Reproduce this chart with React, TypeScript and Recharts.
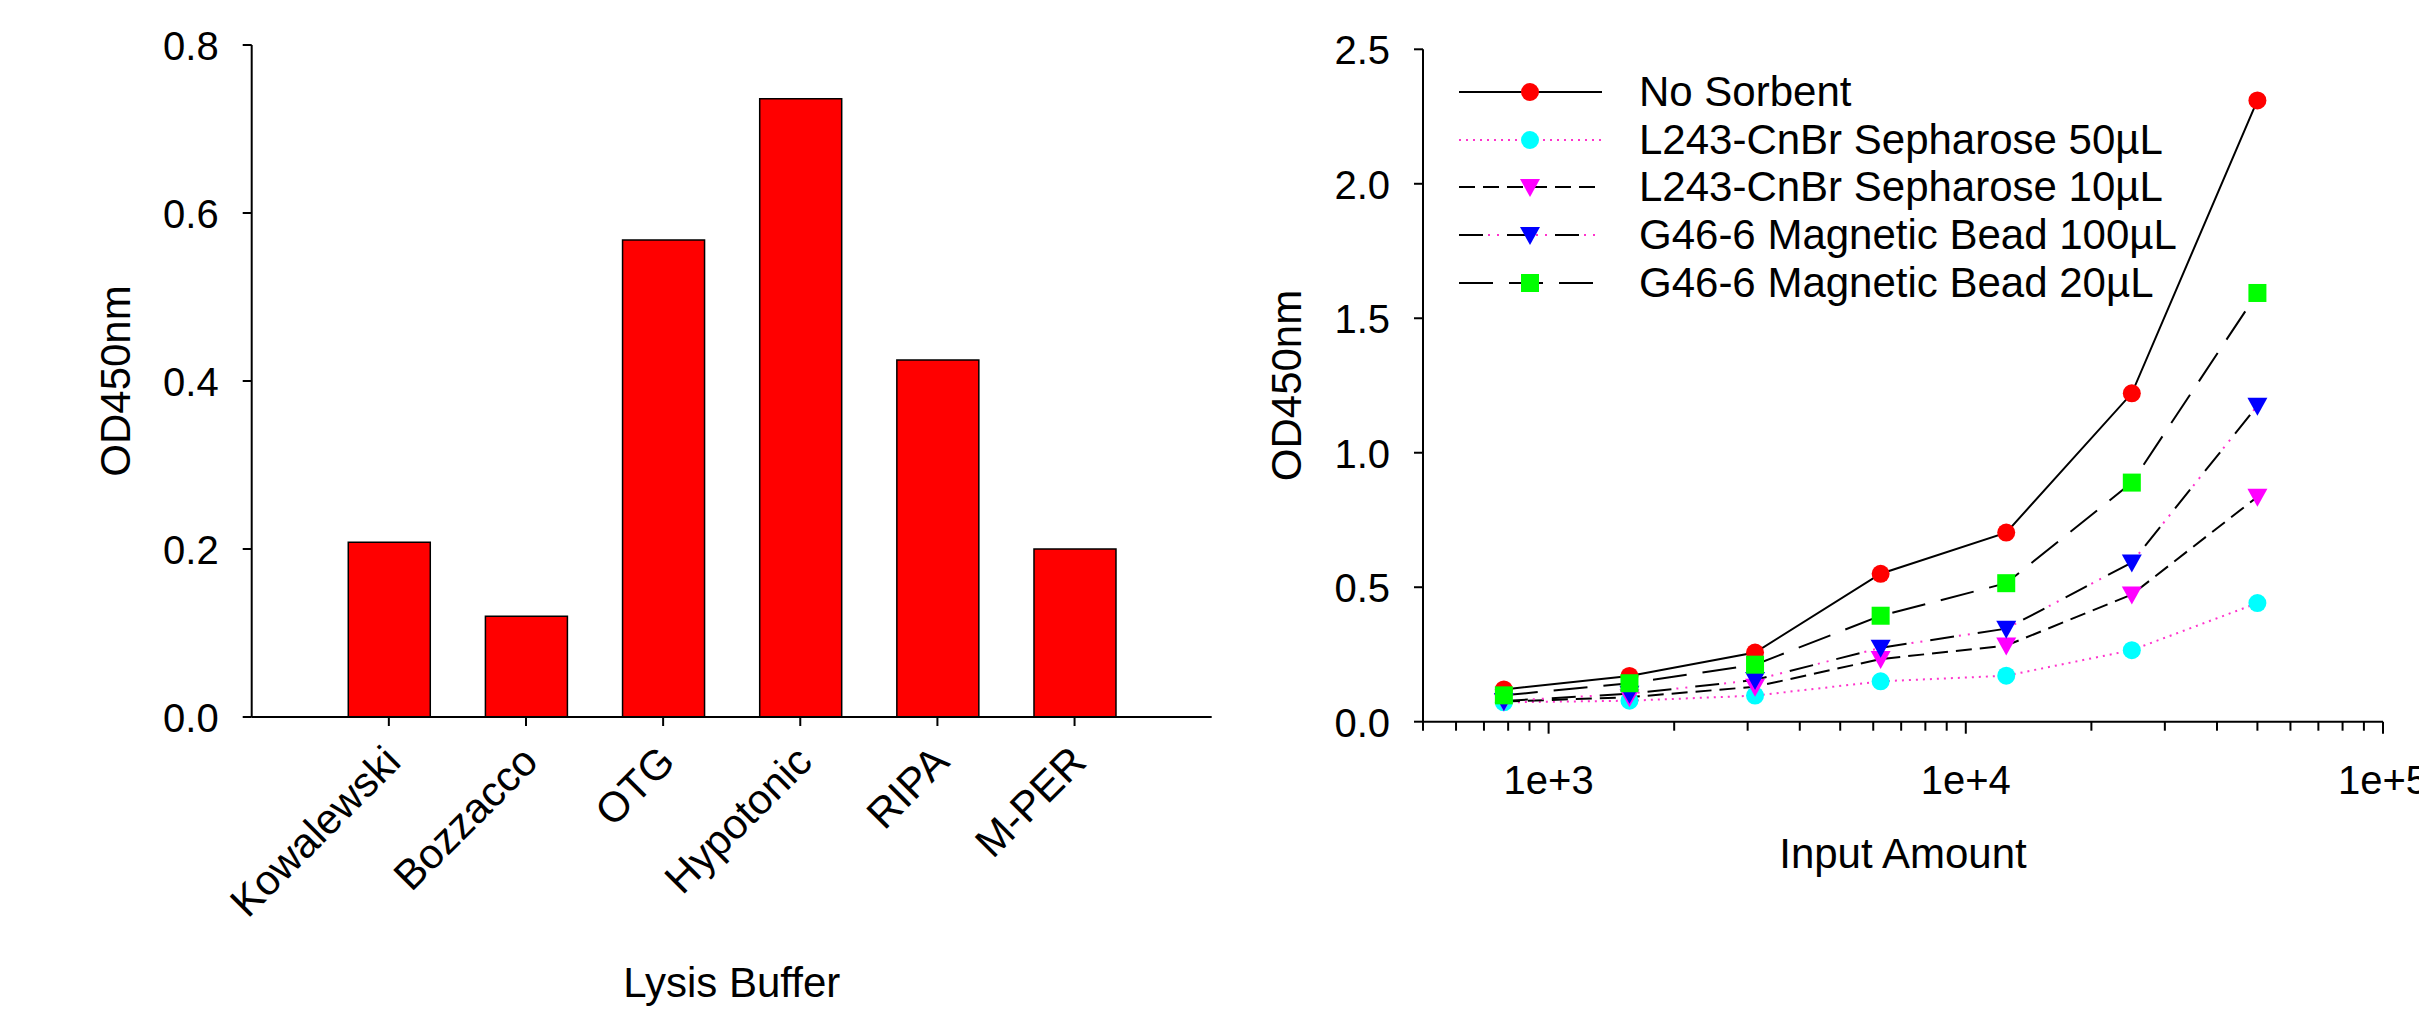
import { BarChart, Bar, LineChart, Line, XAxis, YAxis, Legend } from 'recharts';

const FONT = '"Liberation Sans", Arial, Helvetica, sans-serif';

// left panel: OD450 per lysis buffer
const lysisBuffers = ['Kowalewski', 'Bozzacco', 'OTG', 'Hypotonic', 'RIPA', 'M-PER'];
const lysisOD = [0.208, 0.12, 0.568, 0.736, 0.425, 0.2];
const lysisTicks = [0, 0.2, 0.4, 0.6, 0.8];

// right panel: OD450 vs input amount
const inputAmount = [781.25, 1562.5, 3125, 6250, 12500, 25000, 50000];
const noSorbent = [0.12, 0.17, 0.257, 0.55, 0.703, 1.221, 2.31];
const cnbr50 = [0.072, 0.078, 0.097, 0.15, 0.171, 0.266, 0.441];
const cnbr10 = [0.075, 0.091, 0.13, 0.233, 0.283, 0.473, 0.836];
const bead100 = [0.077, 0.104, 0.155, 0.275, 0.346, 0.592, 1.175];
const bead20 = [0.098, 0.143, 0.212, 0.394, 0.515, 0.889, 1.594];
const odTicks = [0, 0.5, 1, 1.5, 2, 2.5];
const logTicks = [
  500, 600, 700, 800, 900, 1000, 2000, 3000, 4000, 5000, 6000, 7000, 8000, 9000,
  10000, 20000, 30000, 40000, 50000, 60000, 70000, 80000, 90000, 100000,
];
const majorTicks = [1000, 10000, 100000];
const majorLabels = ['1e+3', '1e+4', '1e+5'];

const barData = lysisBuffers.map((name, i) => ({ name, od: lysisOD[i] }));
const lineData = inputAmount.map((x, i) => ({
  x,
  noSorbent: noSorbent[i],
  cnbr50: cnbr50[i],
  cnbr10: cnbr10[i],
  bead100: bead100[i],
  bead20: bead20[i],
}));

type Shape = 'circle' | 'triangle' | 'square';
type Series = { key: string; name: string; shape: Shape; fill: string; stroke: string; dash?: string; dots?: string };

const PINK = '#ff33cc';
const series: Series[] = [
  { key: 'noSorbent', name: 'No Sorbent', shape: 'circle', fill: '#ff0000', stroke: '#000' },
  { key: 'cnbr50', name: 'L243-CnBr Sepharose 50µL', shape: 'circle', fill: '#00ffff', stroke: PINK, dash: '2 5' },
  { key: 'cnbr10', name: 'L243-CnBr Sepharose 10µL', shape: 'triangle', fill: '#ff00ff', stroke: '#000', dash: '16 8' },
  { key: 'bead100', name: 'G46-6 Magnetic Bead 100µL', shape: 'triangle', fill: '#0000ff', stroke: '#000', dash: '24 24', dots: PINK },
  { key: 'bead20', name: 'G46-6 Magnetic Bead 20µL', shape: 'square', fill: '#00ff00', stroke: '#000', dash: '34 16' },
];
const DOT_DASH = '0 29 2 7 2 8';

function Marker({ cx, cy, shape, fill }: { cx?: number; cy?: number; shape: Shape; fill: string }) {
  if (cx == null || cy == null) return null;
  if (shape === 'circle') return <circle cx={cx} cy={cy} r={9} fill={fill} />;
  if (shape === 'square') return <rect x={cx - 9} y={cy - 9} width={18} height={18} fill={fill} />;
  return <polygon points={`${cx - 10},${cy - 8} ${cx + 10},${cy - 8} ${cx},${cy + 10}`} fill={fill} />;
}

function YTick(props: any) {
  const { x, y, payload } = props;
  return (
    <g>
      <line x1={x - 9} x2={x} y1={y} y2={y} stroke="#000" strokeWidth={2} />
      <text x={x - 33} y={y + 15} textAnchor="end" fontSize={40} fontFamily={FONT} fill="#000">
        {Number(payload.value).toFixed(1)}
      </text>
    </g>
  );
}

function CategoryTick(props: any) {
  const { x, y, payload } = props;
  const tx = x + 14;
  const ty = y + 47;
  return (
    <g>
      <line x1={x} x2={x} y1={y} y2={y + 9} stroke="#000" strokeWidth={2} />
      <text x={tx} y={ty} textAnchor="end" fontSize={42} fontFamily={FONT} fill="#000" transform={`rotate(-45, ${tx}, ${ty})`}>
        {payload.value}
      </text>
    </g>
  );
}

function LogTick(props: any) {
  const { x, y, payload } = props;
  const idx = majorTicks.indexOf(payload.value);
  const major = idx >= 0;
  return (
    <g>
      <line x1={x} x2={x} y1={y} y2={y + (major ? 12 : 9)} stroke="#000" strokeWidth={2} />
      {major && (
        <text x={x} y={y + 72} textAnchor="middle" fontSize={40} fontFamily={FONT} fill="#000">
          {majorLabels[idx]}
        </text>
      )}
    </g>
  );
}

const yTitle = (text: string) => (p: any) => {
  const vb = p.viewBox;
  const tx = vb.x + vb.width - 122;
  const ty = vb.y + vb.height / 2;
  return (
    <text x={tx} y={ty} textAnchor="middle" fontSize={42} fontFamily={FONT} fill="#000" transform={`rotate(-90, ${tx}, ${ty})`}>
      {text}
    </text>
  );
};

const xTitle = (text: string, dy: number) => (p: any) => {
  const vb = p.viewBox;
  return (
    <text x={vb.x + vb.width / 2} y={vb.y + dy} textAnchor="middle" fontSize={42} fontFamily={FONT} fill="#000">
      {text}
    </text>
  );
};

function LegendBox() {
  return (
    <div style={{ fontFamily: FONT, fontSize: 42, color: '#000' }}>
      {series.map((s) => (
        <div key={s.key} style={{ display: 'flex', alignItems: 'center', height: 47.8, whiteSpace: 'nowrap' }}>
          <svg width={143} height={30} style={{ display: 'block' }}>
            <line x1={0} y1={15} x2={143} y2={15} stroke={s.stroke} strokeWidth={2} strokeDasharray={s.dash} />
            {s.dots && <line x1={0} y1={15} x2={143} y2={15} stroke={s.dots} strokeWidth={2} strokeDasharray={DOT_DASH} />}
            <Marker cx={71} cy={15} shape={s.shape} fill={s.fill} />
          </svg>
          <span style={{ marginLeft: 37, lineHeight: 1 }}>{s.name}</span>
        </div>
      ))}
    </div>
  );
}

export default function App() {
  return (
    <div style={{ position: 'absolute', left: 0, top: 0, width: 2419, height: 1015, background: '#fff', overflow: 'hidden' }}>
      <div style={{ position: 'absolute', left: 0, top: 0 }}>
        <BarChart width={1240} height={1015} data={barData} margin={{ top: 45, left: 151.7, right: 28.3, bottom: 198 }}>
          <XAxis
            dataKey="name"
            height={100}
            padding={{ left: 68.57, right: 68.57 }}
            axisLine={{ stroke: '#000', strokeWidth: 2 }}
            tickLine={false}
            tickSize={0}
            tickMargin={0}
            interval={0}
            tick={CategoryTick}
            label={xTitle('Lysis Buffer', 280)}
          />
          <YAxis
            width={100}
            domain={[0, 0.8]}
            ticks={lysisTicks}
            interval={0}
            axisLine={{ stroke: '#000', strokeWidth: 2 }}
            tickLine={false}
            tickSize={0}
            tickMargin={0}
            tick={YTick}
            label={yTitle('OD450nm')}
          />
          <Bar dataKey="od" barSize={82} fill="#ff0000" stroke="#000" strokeWidth={1.5} isAnimationActive={false} />
        </BarChart>
      </div>
      <div style={{ position: 'absolute', left: 1240, top: 0 }}>
        <LineChart width={1179} height={1015} data={lineData} margin={{ top: 49.3, left: 83, right: 36, bottom: 193.3 }}>
          <XAxis
            dataKey="x"
            type="number"
            scale="log"
            domain={[500, 100000]}
            allowDataOverflow
            ticks={logTicks}
            interval={0}
            height={100}
            axisLine={{ stroke: '#000', strokeWidth: 2 }}
            tickLine={false}
            tickSize={0}
            tickMargin={0}
            tick={LogTick}
            label={xTitle('Input Amount', 146)}
          />
          <YAxis
            width={100}
            domain={[0, 2.5]}
            ticks={odTicks}
            interval={0}
            axisLine={{ stroke: '#000', strokeWidth: 2 }}
            tickLine={false}
            tickSize={0}
            tickMargin={0}
            tick={YTick}
            label={yTitle('OD450nm')}
          />
          <Legend
            layout="vertical"
            align="center"
            verticalAlign="middle"
            content={() => <LegendBox />}
            wrapperStyle={{ left: 219, top: 68, width: 900, height: 'auto' }}
          />
          {series.flatMap((s) => {
            const lines = [];
            if (s.dots) {
              lines.push(
                <Line
                  key={s.key + '-dots'}
                  dataKey={s.key}
                  stroke={s.dots}
                  strokeWidth={2}
                  strokeDasharray={DOT_DASH}
                  dot={false}
                  activeDot={false}
                  legendType="none"
                  isAnimationActive={false}
                />
              );
            }
            lines.push(
              <Line
                key={s.key}
                dataKey={s.key}
                name={s.name}
                stroke={s.stroke}
                strokeWidth={2}
                strokeDasharray={s.dash}
                dot={(p: any) => <Marker key={`${s.key}-${p.index}`} cx={p.cx} cy={p.cy} shape={s.shape} fill={s.fill} />}
                activeDot={false}
                isAnimationActive={false}
              />
            );
            return lines;
          })}
        </LineChart>
      </div>
    </div>
  );
}
